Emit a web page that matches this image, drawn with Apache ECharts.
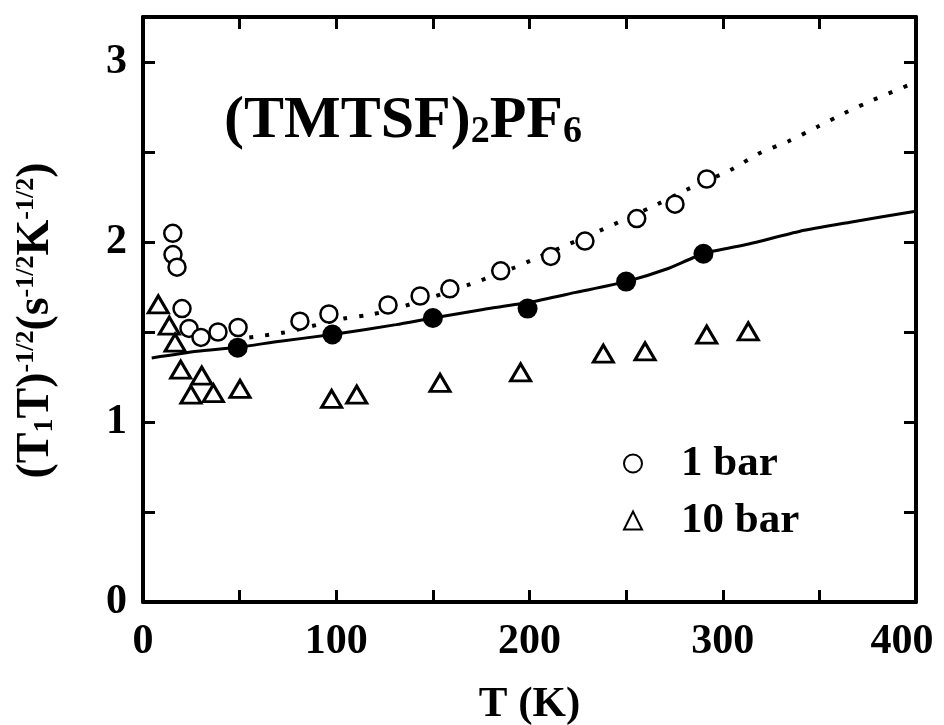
<!DOCTYPE html>
<html>
<head>
<meta charset="utf-8">
<title>(TMTSF)2PF6 relaxation rate</title>
<script src="https://cdn.jsdelivr.net/npm/echarts@6/dist/echarts.min.js"></script>
<style>
  html, body { margin: 0; padding: 0; background: #fff; }
  #chart { width: 944px; height: 725px; }
</style>
</head>
<body>
<div id="chart"></div>
<script>
// Temperature (K) and (T1 T)^-1/2 values, open circles at 1 bar
const bar1T = [15.4, 15.5, 17.6, 20.2, 23.8, 30.0, 38.8, 49.2, 81.2, 96.2, 126.8, 143.4, 158.8, 185.1, 211.0, 228.7, 255.5, 275.3, 291.7];
const bar1V = [2.048, 1.93, 1.86, 1.63, 1.52, 1.47, 1.50, 1.525, 1.56, 1.60, 1.65, 1.70, 1.74, 1.84, 1.92, 2.005, 2.13, 2.21, 2.35];

// Triangles at 10 bar
const bar10T = [7.9, 13.6, 16.6, 19.5, 30.4, 24.8, 36.4, 50.2, 97.6, 110.6, 153.7, 195.4, 238.2, 259.8, 291.7, 313.2];
const bar10V = [1.653, 1.536, 1.441, 1.291, 1.258, 1.152, 1.161, 1.184, 1.128, 1.152, 1.217, 1.276, 1.38, 1.393, 1.486, 1.504];

// Filled circles
const filledT = [49, 98, 150, 199, 250, 290];
const filledV = [1.413, 1.486, 1.578, 1.63, 1.78, 1.935];

// Solid curve
const solidT = [4.5, 28, 49, 71, 98, 131, 150, 176, 200, 224, 250, 271, 290, 314, 340, 366, 399];
const solidV = [1.356, 1.393, 1.415, 1.449, 1.486, 1.541, 1.578, 1.625, 1.665, 1.72, 1.78, 1.85, 1.935, 1.99, 2.06, 2.11, 2.17];

// Dotted curve
const dottedT = [55, 73, 87, 104, 118, 135, 169, 192, 200, 237, 266, 281, 304, 319, 334, 349, 363, 378, 397];
const dottedV = [1.47, 1.497, 1.532, 1.575, 1.597, 1.643, 1.764, 1.857, 1.894, 2.066, 2.209, 2.289, 2.40, 2.493, 2.56, 2.64, 2.716, 2.79, 2.875];

// Axis ranges and labelled ticks
const xMin = 0, xMax = 400, xStep = 50, xLabelStep = 100;
const yMin = 0, yMax = 3.25, yStep = 0.5, yLabelStep = 1;

const zip = (a, b) => a.map((v, i) => [v, b[i]]);

const FONT = '"Liberation Serif", "Times New Roman", serif';
const INK = '#000';

const axisLineStyle = { show: true, onZero: false, lineStyle: { color: INK, width: 4 } };
const tickStyle = { show: true, inside: true, length: 12, lineStyle: { color: INK, width: 3 } };

const chart = echarts.init(document.getElementById('chart'), null, { renderer: 'canvas' });

chart.setOption({
  backgroundColor: '#fff',
  animation: false,
  title: {
    text: '{a|(TMTSF)}{s|2}{a|PF}{s|6}',
    left: 219,
    top: 86,
    textStyle: {
      rich: {
        a: { fontFamily: FONT, fontWeight: 'bold', fontSize: 60, lineHeight: 60, color: INK, verticalAlign: 'bottom' },
        s: { fontFamily: FONT, fontWeight: 'bold', fontSize: 38, lineHeight: 36, color: INK, verticalAlign: 'bottom' }
      }
    }
  },
  legend: {
    orient: 'vertical',
    left: 618,
    top: 437,
    itemWidth: 18,
    itemHeight: 18,
    itemGap: 14,
    data: ['1 bar', '10 bar'],
    textStyle: { fontFamily: FONT, fontWeight: 'bold', fontSize: 43, color: INK, padding: [0, 0, 0, 34] }
  },
  grid: { left: 143, right: 28, top: 17, bottom: 123, containLabel: false, outerBoundsMode: 'none' },
  xAxis: [
    {
      type: 'value', position: 'bottom', min: xMin, max: xMax, interval: xStep,
      axisLine: axisLineStyle, axisTick: tickStyle, splitLine: { show: false },
      axisLabel: {
        margin: 19, fontFamily: FONT, fontWeight: 'bold', fontSize: 42, color: INK,
        formatter: v => (v === xMax ? '{m|' + v + '}' : (v % xLabelStep === 0 ? String(v) : '')),
        rich: {
          m: { fontFamily: FONT, fontWeight: 'bold', fontSize: 42, color: INK, padding: [0, 28, 0, 0] }
        }
      },
      name: 'T (K)', nameLocation: 'middle', nameGap: 81,
      nameTextStyle: { fontFamily: FONT, fontWeight: 'bold', fontSize: 43, color: INK }
    },
    {
      type: 'value', position: 'top', min: xMin, max: xMax, interval: xStep,
      axisLine: axisLineStyle, axisTick: tickStyle, axisLabel: { show: false }, splitLine: { show: false }
    }
  ],
  yAxis: [
    {
      type: 'value', position: 'left', min: yMin, max: yMax, interval: yStep,
      axisLine: axisLineStyle, axisTick: tickStyle, splitLine: { show: false },
      axisLabel: {
        margin: 16, fontFamily: FONT, fontWeight: 'bold', fontSize: 42, color: INK, showMaxLabel: false,
        formatter: v => (Math.abs(v % yLabelStep) < 1e-9 ? String(v) : '')
      },
      name: '{a|(T}{b|1}{a|T)}{p|-1/2}{a|(s}{p|-1/2}{a|K}{p|-1/2}{a|)}',
      nameLocation: 'middle', nameRotate: 90, nameGap: 84,
      nameTextStyle: {
        padding: [0, 22, 0, 0],
        rich: {
          a: { fontFamily: FONT, fontWeight: 'bold', fontSize: 46, lineHeight: 46, color: INK, verticalAlign: 'bottom' },
          b: { fontFamily: FONT, fontWeight: 'bold', fontSize: 28, lineHeight: 24, color: INK, verticalAlign: 'bottom' },
          p: { fontFamily: FONT, fontWeight: 'bold', fontSize: 26, lineHeight: 22, color: INK, verticalAlign: 'top' }
        }
      }
    },
    {
      type: 'value', position: 'right', min: yMin, max: yMax, interval: yStep,
      axisLine: axisLineStyle, axisTick: tickStyle, axisLabel: { show: false }, splitLine: { show: false }
    }
  ],
  series: [
    {
      name: 'fit-solid', type: 'line', data: zip(solidT, solidV), showSymbol: false, smooth: 0.2, z: 2,
      lineStyle: { color: INK, width: 3 }
    },
    {
      name: 'fit-dotted', type: 'line', data: zip(dottedT, dottedV), showSymbol: false, smooth: 0.3, z: 2,
      lineStyle: { color: INK, width: 4, type: [4, 12], cap: 'butt' }
    },
    {
      name: 'filled', type: 'scatter', data: zip(filledT, filledV), symbol: 'circle', symbolSize: 20, z: 4,
      itemStyle: { color: INK, opacity: 1 }
    },
    {
      name: '1 bar', type: 'scatter', data: zip(bar1T, bar1V), symbol: 'circle', symbolSize: 17, z: 3,
      itemStyle: { color: '#fff', borderColor: INK, borderWidth: 2.5, opacity: 1 }
    },
    {
      name: '10 bar', type: 'scatter', data: zip(bar10T, bar10V), symbol: 'triangle', symbolSize: [20, 17], z: 3,
      itemStyle: { color: '#fff', borderColor: INK, borderWidth: 3, opacity: 1 }
    }
  ]
});
</script>
</body>
</html>
